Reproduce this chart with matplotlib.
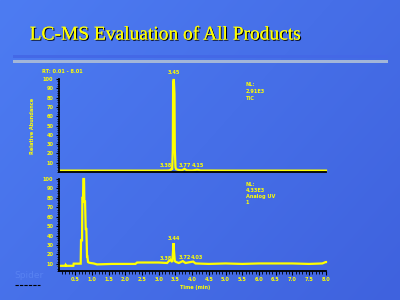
import numpy as np
import matplotlib
matplotlib.use("Agg")
import matplotlib.pyplot as plt
from matplotlib.ticker import MultipleLocator, FixedLocator
import matplotlib.patheffects as pe

# ---- data -------------------------------------------------------------
title = "LC-MS Evaluation of All Products"

tic_time = [0.01, 1.0, 2.0, 3.0, 3.30, 3.36, 3.38, 3.40, 3.42, 3.43, 3.45,
            3.47, 3.48, 3.50, 3.52, 3.56, 3.62, 3.70, 3.77, 3.84, 4.00,
            4.15, 4.25, 5.0, 6.0, 7.0, 8.01]
tic_signal = [1.5, 1.5, 1.5, 1.5, 1.6, 2.5, 3.5, 2.5, 24, 96, 100,
              84, 24, 5, 3, 2.5, 2.0, 1.8, 3.5, 1.8, 1.6,
              2.5, 1.6, 1.5, 1.5, 1.5, 1.5]
tic_peaks = [("3.45", 3.45, 104, "center"), ("3.38", 3.22, 4, "center"),
             ("3.77", 3.78, 4, "center"), ("4.15", 4.18, 4, "center")]

uv_time = [0.01, 0.20, 0.21, 0.23, 0.30, 0.44, 0.45, 0.66, 0.67, 0.70,
           0.71, 0.73, 0.74, 0.76, 0.77, 0.79, 0.81, 0.83, 0.85, 0.86,
           0.88, 0.90, 0.95, 1.05, 1.15, 1.60, 2.30, 2.35, 3.00, 3.25,
           3.30, 3.36, 3.40, 3.42, 3.44, 3.46, 3.48, 3.52, 3.60, 3.72,
           3.80, 4.03, 4.10, 4.50, 5.00, 5.50, 6.00, 6.50, 7.00, 7.50,
           7.90, 8.00, 8.01]
uv_signal = [8.0, 8.0, 9.0, 8.0, 8.0, 8.0, 10.3, 10.3, 35, 35,
             80, 80, 100, 100, 76, 76, 47, 47, 18, 18,
             12, 11.5, 11, 10.5, 9.5, 10, 10, 11.5, 11.5, 11,
             13, 14, 12, 20, 32, 22, 13, 12, 11, 13,
             11, 12.5, 10.5, 10, 10.5, 10, 10.5, 10.5, 10.5, 10,
             10.5, 12, 12]
uv_peaks = [("3.44", 3.44, 34, "center"), ("3.38", 3.22, 13, "center"),
            ("3.72", 3.78, 14.5, "center"), ("4.03", 4.13, 14.5, "center")]

y_ticks = [10, 20, 30, 40, 50, 60, 70, 80, 90, 100]
x_ticks = [0.5, 1.0, 1.5, 2.0, 2.5, 3.0, 3.5, 4.0, 4.5, 5.0, 5.5, 6.0,
           6.5, 7.0, 7.5, 8.0]
x_range = (0.01, 8.01)

# ---- style -------------------------------------------------------------
YEL = "#ffff00"
W, H = 400, 300
fig = plt.figure(figsize=(4, 3), dpi=100)

# slide background gradient
bg = fig.add_axes([0, 0, 1, 1])
gx, gy = np.meshgrid(np.linspace(0, 1, 200), np.linspace(0, 1, 150))
t = (gx * 0.6 + gy * 0.4)
c0 = np.array([0x4d, 0x7c, 0xf2]) / 255
c1 = np.array([0x3f, 0x62, 0xde]) / 255
img = c0[None, None, :] * (1 - t[..., None]) + c1[None, None, :] * t[..., None]
bg.imshow(img, extent=[0, W, H, 0], aspect="auto", interpolation="bilinear")
bg.set_xlim(0, W)
bg.set_ylim(H, 0)
bg.axis("off")

# title and rule
bg.text(166, 35, title, color=YEL, fontsize=14, family="Liberation Serif",
        ha="center", va="center",
        path_effects=[pe.withSimplePatchShadow(offset=(0.8, -0.8),
                                               shadow_rgbFace="black",
                                               alpha=1.0), pe.Normal()])
bg.add_patch(plt.Rectangle((13, 55), 375, 3, color="#4468e6", lw=0))
bg.add_patch(plt.Rectangle((13, 60), 375, 2.5, color="#a3b6d8", lw=0))

# faint footer marks
bg.text(29, 276, "Spider", color="#5882f2", fontsize=6.5, ha="center",
        va="center")
bg.plot([15, 40], [284.5, 284.5], color="black", lw=0.8, ls=(0, (3, 1)))

small = dict(color=YEL, fontsize=3.6, fontweight="bold", family="DejaVu Sans")


def px_axes(left, top, right, bottom):
    return fig.add_axes([left / W, 1 - bottom / H, (right - left) / W,
                         (bottom - top) / H])


def style(ax, ylo, show_x):
    ax.set_facecolor("none")
    ax.set_xlim(*x_range)
    ax.set_ylim(ylo, 100)
    for s in ("top", "right"):
        ax.spines[s].set_visible(False)
    for s in ("left", "bottom"):
        ax.spines[s].set_color("black")
        ax.spines[s].set_linewidth(1.3)
    ax.yaxis.set_major_locator(FixedLocator(y_ticks))
    ax.yaxis.set_minor_locator(MultipleLocator(2.5))
    ax.tick_params(axis="y", which="major", length=2.5, width=0.8,
                   color="black", labelcolor=YEL, labelsize=3.6, pad=1.5)
    ax.tick_params(axis="y", which="minor", length=1.5, width=0.6,
                   color="black")
    for lab in ax.get_yticklabels():
        lab.set_fontweight("bold")
    if show_x:
        ax.xaxis.set_major_locator(FixedLocator(x_ticks))
        ax.set_xticklabels([f"{v:.1f}" for v in x_ticks])
        ax.xaxis.set_minor_locator(MultipleLocator(0.1))
        ax.tick_params(axis="x", which="major", length=3, width=0.8,
                       color="black", labelcolor=YEL, labelsize=3.6, pad=1.5)
        ax.tick_params(axis="x", which="minor", length=2, width=0.6,
                       color="black")
        for lab in ax.get_xticklabels():
            lab.set_fontweight("bold")
    else:
        ax.set_xticks([])


# ---- TIC panel -----------------------------------------------------------
ax1 = px_axes(59, 79, 326, 172)
style(ax1, 0, False)
ax1.plot(tic_time, tic_signal, color=YEL, lw=1.6, clip_on=False,
         solid_joinstyle="miter")
for txt, x, y, ha in tic_peaks:
    ax1.text(x, y, txt, ha=ha, va="bottom", clip_on=False, **small)
ax1.set_ylabel("Relative Abundance", color=YEL, fontsize=3.6,
               fontweight="bold", labelpad=6)
ax1.text(-0.5, 108, "RT: 0.01 - 8.01", ha="left", va="center", **small)
ax1.text(5.6, 97, "NL:\n2.91E3\nTIC", ha="left", va="top",
         linespacing=1.5, **small)

# ---- UV panel ------------------------------------------------------------
ax2 = px_axes(59, 179, 326, 271)
style(ax2, 2.5, True)
ax2.plot(uv_time, uv_signal, color=YEL, lw=1.6, clip_on=False,
         solid_joinstyle="miter")
for txt, x, y, ha in uv_peaks:
    ax2.text(x, y, txt, ha=ha, va="bottom", clip_on=False, **small)
ax2.text(5.6, 97, "NL:\n4.33E3\nAnalog UV\n1", ha="left", va="top",
         linespacing=1.3, **small)
bg.text(195, 287, "Time (min)", ha="center", va="center", **small)

fig.savefig("out.png", dpi=100)
